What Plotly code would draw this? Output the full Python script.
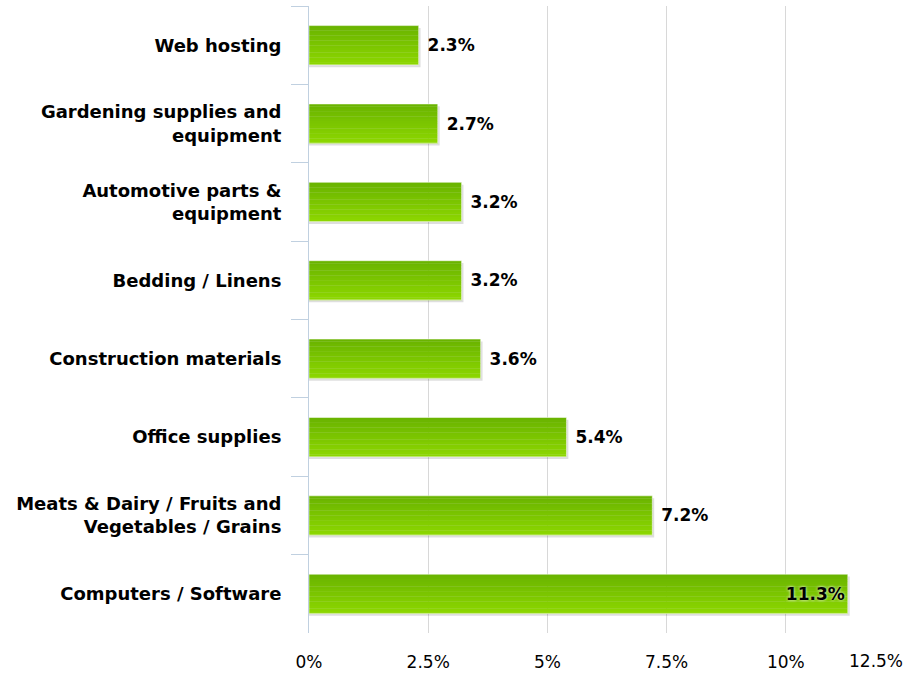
import plotly.graph_objects as go

categories = [
    "Web hosting",
    "Gardening supplies and<br>equipment",
    "Automotive parts &amp;<br>equipment",
    "Bedding / Linens",
    "Construction materials",
    "Office supplies",
    "Meats &amp; Dairy / Fruits and<br>Vegetables / Grains",
    "Computers / Software",
]
shares = [2.3, 2.7, 3.2, 3.2, 3.6, 5.4, 7.2, 11.3]
x_ticks = [0, 2.5, 5, 7.5, 10]
x_tick_labels = ["0%", "2.5%", "5%", "7.5%", "10%"]
x_max = 12.5
x_max_label = "12.5%"

BAR_W = 0.5
TOP = -0.25
labels = [f"\u00a0{v:.1f}%" if v <= 10 else f"{v:.1f}%" for v in shares]
positions = ["inside" if v > 10 else "outside" for v in shares]

fig = go.Figure()

# soft drop shadow to the right and below each bar
fig.add_trace(go.Bar(
    y=categories, x=[v + 0.04 for v in shares], orientation="h",
    marker=dict(color="rgba(0,0,0,0.13)", line=dict(width=0)),
    width=BAR_W, offset=TOP + 0.03,
    hoverinfo="skip", showlegend=False,
))

# vertical green gradient built from thin horizontal bands
N = 16
c_top = (106, 180, 0)
c_bot = (140, 214, 0)
for i in range(N):
    t = i / (N - 1)
    c = tuple(round(a + (b - a) * t) for a, b in zip(c_top, c_bot))
    fig.add_trace(go.Bar(
        y=categories, x=shares, orientation="h",
        marker=dict(color=f"rgb{c}", line=dict(width=0)),
        width=BAR_W / N + 0.004, offset=TOP + i * BAR_W / N,
        hoverinfo="skip", showlegend=False,
    ))

# thin light edge and value labels
fig.add_trace(go.Bar(
    y=categories, x=shares, orientation="h",
    marker=dict(color="rgba(0,0,0,0)", line=dict(color="rgba(255,255,255,0.5)", width=1)),
    width=BAR_W, offset=TOP,
    text=labels, textposition=positions,
    insidetextanchor="end",
    insidetextfont=dict(family="DejaVu Sans", size=17, color="#000000", weight="bold",
                        shadow="0px 0px 3px #ffffff"),
    outsidetextfont=dict(family="DejaVu Sans", size=17, color="#000000", weight="bold"),
    cliponaxis=False,
    showlegend=False,
))

# last x tick label sits flush with the right edge
fig.add_annotation(
    x=x_max, y=0, xref="x", yref="paper",
    text=x_max_label, showarrow=False,
    xanchor="right", yanchor="top", yshift=-16,
    font=dict(family="DejaVu Sans", size=17, color="#000000"),
)

fig.update_layout(
    width=909, height=676,
    margin=dict(l=309, r=4, t=6, b=39),
    paper_bgcolor="#ffffff", plot_bgcolor="#ffffff",
    barmode="overlay",
    font=dict(family="DejaVu Sans", color="#000000"),
    xaxis=dict(
        range=[0, x_max],
        tickvals=x_ticks + [x_max], ticktext=x_tick_labels + [""],
        showgrid=True, gridcolor="#d8d8d8", gridwidth=1,
        zeroline=False, showline=False, ticks="",
        tickfont=dict(family="DejaVu Sans", size=17, color="#000000"),
        ticklabelstandoff=17,
    ),
    yaxis=dict(
        autorange="reversed",
        showgrid=False, zeroline=False,
        showline=True, linecolor="#c0d0e0", linewidth=1,
        ticks="outside", tickson="boundaries", ticklen=17, tickcolor="#c0d0e0",
        tickfont=dict(family="DejaVu Sans", size=18, color="#000000", weight="bold"),
        ticklabelstandoff=23,
    ),
)

fig.write_html("out.html")
